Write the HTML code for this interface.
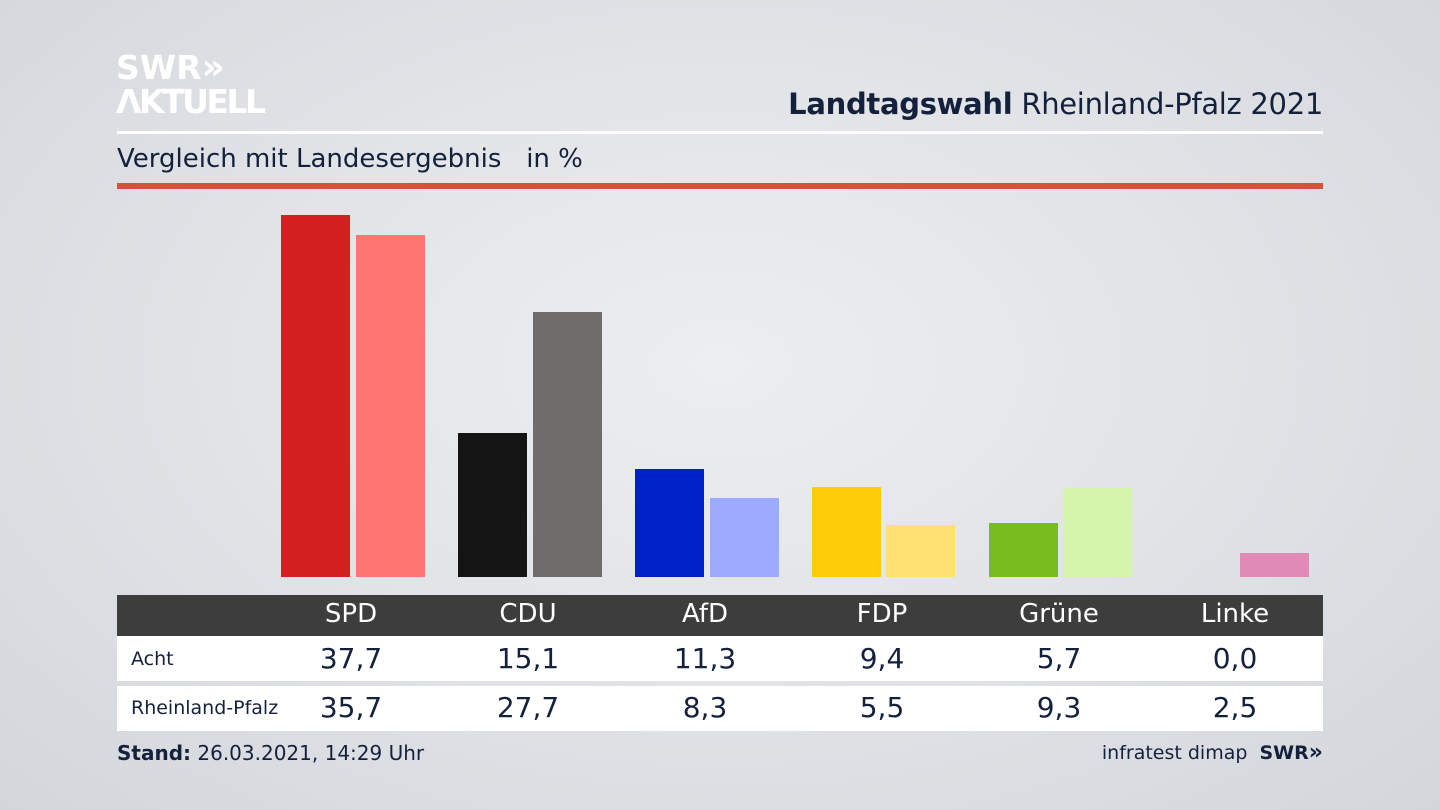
<!DOCTYPE html>
<html><head><meta charset="utf-8"><style>
body{margin:0;width:1440px;height:810px;overflow:hidden;font-family:"DejaVu Sans","Liberation Sans",sans-serif;color:#14213d;
background:radial-gradient(ellipse at 50% 45%,#eceef1 0%,#e1e3e7 50%,#d3d6db 100%);position:relative}
.a{position:absolute}
.bar{position:absolute;width:69px}
.row{position:absolute;left:117px;width:1206px;background:#fff}
.c{position:absolute;width:160px;text-align:center;transform:translateX(-80px)}
</style></head><body>
<div class="a" style="left:116px;top:51px;color:#fff;font-weight:bold;font-size:33px;line-height:34px">SWR<span style="font-size:36px;line-height:20px">»</span><br><span style="letter-spacing:-2.5px">ΛKTUELL</span></div>
<div class="a" style="right:117px;top:87px;font-size:29px;color:#14213d;letter-spacing:-0.3px"><b>Landtagswahl</b> Rheinland-Pfalz 2021</div>
<div class="a" style="left:117px;top:131px;width:1206px;height:3px;background:#fff"></div>
<div class="a" style="left:117px;top:144px;font-size:26px">Vergleich mit Landesergebnis &nbsp; in %</div>
<div class="a" style="left:117px;top:183px;width:1206px;height:6px;background:#d2523a"></div>

<div class="bar" style="left:281px;top:215px;height:362px;background:#d42020"></div>
<div class="bar" style="left:356px;top:235px;height:342px;background:#ff7571"></div>
<div class="bar" style="left:458px;top:433px;height:144px;background:#141414"></div>
<div class="bar" style="left:533px;top:312px;height:265px;background:#6f6d6b"></div>
<div class="bar" style="left:635px;top:469px;height:108px;background:#0020c8"></div>
<div class="bar" style="left:710px;top:498px;height:79px;background:#9caaff"></div>
<div class="bar" style="left:812px;top:487px;height:90px;background:#ffcc08"></div>
<div class="bar" style="left:886px;top:525px;height:52px;background:#ffe070"></div>
<div class="bar" style="left:989px;top:523px;height:54px;background:#78bc1e"></div>
<div class="bar" style="left:1063px;top:488px;height:89px;background:#d5f5ab"></div>
<div class="bar" style="left:1240px;top:553px;height:24px;background:#e08ab8"></div>

<div class="row" style="top:595px;height:41px;background:#3d3d3d;color:#fff;font-size:26px">
<div class="c" style="left:234px;top:4px">SPD</div><div class="c" style="left:411px;top:4px">CDU</div><div class="c" style="left:588px;top:4px">AfD</div><div class="c" style="left:765px;top:4px">FDP</div><div class="c" style="left:942px;top:4px">Grüne</div><div class="c" style="left:1118px;top:4px">Linke</div>
</div>
<div class="row" style="top:636px;height:45px;font-size:28px">
<div class="a" style="left:14px;top:12px;font-size:19px">Acht</div>
<div class="c" style="left:234px;top:6px">37,7</div><div class="c" style="left:411px;top:6px">15,1</div><div class="c" style="left:588px;top:6px">11,3</div><div class="c" style="left:765px;top:6px">9,4</div><div class="c" style="left:942px;top:6px">5,7</div><div class="c" style="left:1118px;top:6px">0,0</div>
</div>
<div class="row" style="top:686px;height:45px;font-size:28px">
<div class="a" style="left:14px;top:11px;font-size:19px">Rheinland-Pfalz</div>
<div class="c" style="left:234px;top:5px">35,7</div><div class="c" style="left:411px;top:5px">27,7</div><div class="c" style="left:588px;top:5px">8,3</div><div class="c" style="left:765px;top:5px">5,5</div><div class="c" style="left:942px;top:5px">9,3</div><div class="c" style="left:1118px;top:5px">2,5</div>
</div>
<div class="a" style="left:117px;top:741px;font-size:20px"><b>Stand:</b> 26.03.2021, 14:29 Uhr</div>
<div class="a" style="right:117px;top:742px;font-size:19px">infratest dimap &nbsp;<b>SWR<span style="font-size:22px;line-height:10px">»</span></b></div>
</body></html>
